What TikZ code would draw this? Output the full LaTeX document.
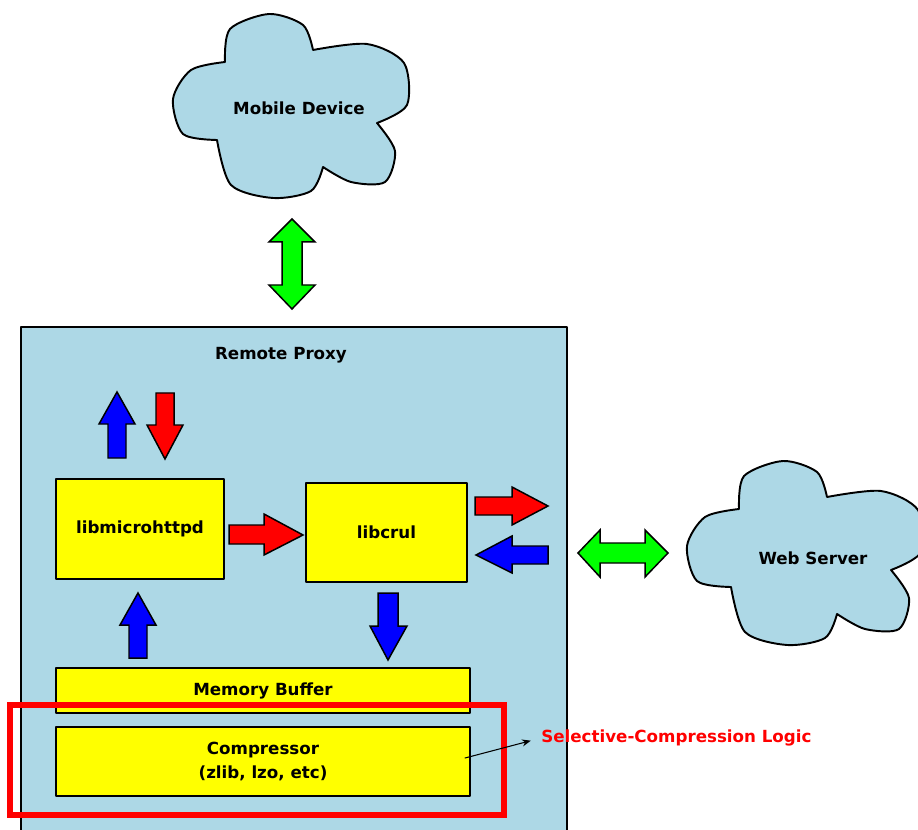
\documentclass[tikz,border=0pt]{standalone}
\usepackage{fontspec}
\setmainfont{DejaVu Sans}
\usepackage{tikz}
\usetikzlibrary{arrows.meta}
\definecolor{qqffqq}{rgb}{0.,1.,0.}
\definecolor{ffqqqq}{rgb}{1.,0.,0.}
\definecolor{qqqqff}{rgb}{0.,0.,1.}
\definecolor{ffffqq}{rgb}{1.,1.,0.}
\definecolor{adddee}{rgb}{0.678,0.847,0.902}
\tikzstyle{every node}=[font=\fontsize{9.5}{13.6}\selectfont\bfseries]
\tikzset{
  blockarrow/.style={draw=black,line width=0.85pt,line join=miter},
  redarrow/.style={blockarrow,fill=ffqqqq},
  bluearrow/.style={blockarrow,fill=qqqqff},
  greenarrow/.style={blockarrow,fill=qqffqq},
  ybox/.style={draw=black,line width=1pt,fill=ffffqq,inner sep=0pt},
  cloudfill/.style={draw=black,line width=1.1pt,fill=adddee}
}
% cloud outline, drawn around its centre
\newcommand{\cloudat}[2]{%
  \filldraw[cloudfill,shift={(#1,#2)}]
    plot[smooth] coordinates {(-66,-43) (-61,-76) (-22,-91) (12,-80) (22,-55)}
    -- plot[smooth] coordinates {(22,-55) (76,-61) (113,-42) (116,0) (86,18)}
    -- plot[smooth] coordinates {(86,18) (104,46) (94,77) (60,77) (32,62)}
    -- plot[smooth] coordinates {(32,62) (20,86) (-18,93) (-60,80) (-74,35)}
    -- plot[smooth] coordinates {(-74,35) (-108,29) (-118,-6) (-100,-35) (-66,-43)}
    -- cycle;}
\begin{document}
\begin{tikzpicture}[line cap=round,line join=round,x=0.02cm,y=-0.02cm]
            \useasboundingbox (0.,0.) rectangle (918.,830.);
            \clip(0.,0.) rectangle (918.,830.);
            % clouds
            \cloudat{291}{105}
            \node (mobile) at (299.,108.) {Mobile Device};
            \cloudat{805}{552}
            \node (web) at (813.,558.) {Web Server};
            \draw [greenarrow] (292.,219.) -- (315.,242.) -- (302.,242.) -- (302.,285.) -- (315.,285.) -- (292.,309.) -- (269.,285.) -- (282.,285.) -- (282.,242.) -- (269.,242.) -- cycle;
            \draw [greenarrow] (578.,553.) -- (600.,530.) -- (600.,543.) -- (645.,543.) -- (645.,530.) -- (668.,553.) -- (645.,577.) -- (645.,563.) -- (600.,563.) -- (600.,577.) -- cycle;
            % proxy
            \draw [line width=1.1pt,fill=adddee] (21.,327.) rectangle (567.,860.);
            \node (proxy) at (281.,355.) {Remote Proxy};
            \node [ybox,minimum width=3.36cm,minimum height=2.cm] (httpd) at (140.,529.) {libmicrohttpd};
            \node [ybox,minimum width=3.22cm,minimum height=1.98cm] (curl) at (386.5,532.5) {libcrul};
            \node [ybox,minimum width=8.28cm,minimum height=0.9cm] (buffer) at (263.,690.5) {Memory Buffer};
            \node [ybox,minimum width=8.28cm,minimum height=1.38cm,align=center] (compressor) at (263.,761.5) {Compressor\\(zlib, lzo, etc)};
            \draw [bluearrow] (117.,392.) -- (135.,424.) -- (126.,424.) -- (126.,458.) -- (108.,458.) -- (108.,424.) -- (99.,424.) -- cycle;
            \draw [redarrow] (165.,459.) -- (183.,425.) -- (174.,425.) -- (174.,393.) -- (156.,393.) -- (156.,425.) -- (147.,425.) -- cycle;
            \draw [redarrow] (303.,535.) -- (264.,514.) -- (264.,525.) -- (229.,525.) -- (229.,544.) -- (264.,544.) -- (264.,555.) -- cycle;
            \draw [redarrow] (548.,506.) -- (512.,487.) -- (512.,497.) -- (475.,497.) -- (475.,515.) -- (512.,515.) -- (512.,525.) -- cycle;
            \draw [bluearrow] (476.,555.) -- (512.,536.) -- (512.,546.) -- (548.,546.) -- (548.,564.) -- (512.,564.) -- (512.,573.) -- cycle;
            \draw [bluearrow] (138.,593.) -- (156.,625.) -- (147.,625.) -- (147.,658.) -- (129.,658.) -- (129.,625.) -- (120.,625.) -- cycle;
            \draw [bluearrow] (388.,660.) -- (407.,626.) -- (398.,626.) -- (398.,593.) -- (378.,593.) -- (378.,626.) -- (370.,626.) -- cycle;
            % selective compression
            \draw [line width=3.1pt,color=ffqqqq,line join=miter,line cap=rect] (10.,705.) rectangle (504.,815.);
            \node [anchor=west,color=ffqqqq,inner sep=0pt] (logic) at (541.,738.) {Selective-Compression Logic};
            \coordinate (logicpt) at (465.,758.);
            \draw [-{Stealth[length=5pt,width=4pt]},line width=0.6pt,shorten >=6pt] (logicpt) -- (logic.west);
\end{tikzpicture}
\end{document}
